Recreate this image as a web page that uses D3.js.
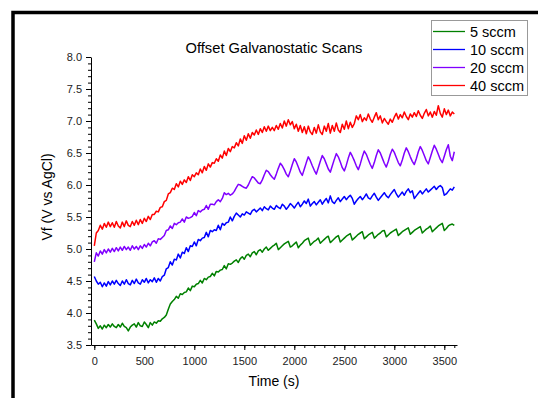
<!DOCTYPE html>
<html>
<head>
<meta charset="utf-8">
<script src="https://cdn.jsdelivr.net/npm/d3@7"></script>
<style>
  html, body { margin: 0; padding: 0; background: #fff; }
  svg { display: block; font-family: "Liberation Sans", Arial, sans-serif; }
  .axis text { font-size: 11px; fill: #222; }
  .axis path, .axis line { stroke: #000; }
</style>
</head>
<body>
<div id="chart"></div>
<script>
// sampling interval of the scans (s)
const timeStep = 20;

const seriesNames = ['5 sccm', '10 sccm', '20 sccm', '40 sccm'];
const seriesColors = ['#008000', '#0000ff', '#8000ff', '#ff0000'];

// values, one every 20 s from 0 to 3600 s
const vf5 = [
  3.89, 3.83, 3.76, 3.80, 3.75, 3.81, 3.77, 3.82, 3.78, 3.83,
  3.79, 3.77, 3.82, 3.78, 3.84, 3.79, 3.77, 3.72, 3.78, 3.81,
  3.83, 3.78, 3.85, 3.80, 3.79, 3.86, 3.82, 3.77, 3.85, 3.81,
  3.86, 3.84, 3.88, 3.87, 3.91, 3.93, 3.97, 4.06, 4.14, 4.18,
  4.21, 4.26, 4.23, 4.30, 4.29, 4.32, 4.33, 4.39, 4.35, 4.42,
  4.41, 4.45, 4.46, 4.51, 4.47, 4.54, 4.52, 4.56, 4.57, 4.62,
  4.58, 4.65, 4.64, 4.67, 4.68, 4.74, 4.69, 4.77, 4.76, 4.78,
  4.81, 4.83, 4.79, 4.85, 4.88, 4.84, 4.90, 4.92, 4.88, 4.94,
  4.96, 4.91, 4.97, 4.99, 4.95, 5.00, 5.03, 4.98, 5.01, 5.04,
  5.06, 5.09, 4.99, 5.02, 5.05, 5.08, 5.10, 5.12, 5.03, 5.05,
  5.08, 5.11, 5.02, 5.06, 5.09, 5.13, 5.15, 5.17, 5.06, 5.09,
  5.12, 5.14, 5.17, 5.09, 5.12, 5.15, 5.18, 5.20, 5.10, 5.13,
  5.16, 5.19, 5.21, 5.11, 5.14, 5.17, 5.20, 5.22, 5.24, 5.14,
  5.17, 5.20, 5.23, 5.25, 5.27, 5.16, 5.19, 5.22, 5.24, 5.26,
  5.17, 5.20, 5.23, 5.25, 5.28, 5.29, 5.19, 5.22, 5.25, 5.27,
  5.29, 5.31, 5.21, 5.24, 5.27, 5.29, 5.31, 5.33, 5.23, 5.26,
  5.29, 5.31, 5.33, 5.35, 5.25, 5.28, 5.31, 5.33, 5.36, 5.27,
  5.30, 5.33, 5.36, 5.38, 5.40, 5.29, 5.32, 5.36, 5.38, 5.39,
  5.37
];

const vf10 = [
  4.57, 4.50, 4.45, 4.48, 4.41, 4.47, 4.42, 4.49, 4.44, 4.50,
  4.45, 4.51, 4.46, 4.43, 4.50, 4.45, 4.52, 4.46, 4.44, 4.51,
  4.46, 4.53, 4.47, 4.45, 4.52, 4.48, 4.54, 4.47, 4.52, 4.49,
  4.55, 4.48, 4.54, 4.50, 4.57, 4.59, 4.69, 4.71, 4.80, 4.75,
  4.84, 4.83, 4.92, 4.86, 4.95, 4.93, 5.02, 4.96, 5.05, 5.04,
  5.11, 5.05, 5.15, 5.13, 5.17, 5.18, 5.26, 5.19, 5.29, 5.27,
  5.30, 5.29, 5.37, 5.30, 5.40, 5.37, 5.41, 5.42, 5.50, 5.44,
  5.51, 5.56, 5.53, 5.50, 5.55, 5.53, 5.58, 5.56, 5.54, 5.60,
  5.62, 5.58, 5.61, 5.64, 5.60, 5.66, 5.63, 5.61, 5.67, 5.64,
  5.62, 5.68, 5.65, 5.63, 5.70, 5.67, 5.62, 5.66, 5.71, 5.68,
  5.64, 5.69, 5.73, 5.66, 5.70, 5.75, 5.71, 5.78, 5.67, 5.71,
  5.74, 5.69, 5.73, 5.77, 5.70, 5.75, 5.79, 5.72, 5.83, 5.74,
  5.71, 5.76, 5.80, 5.74, 5.78, 5.82, 5.77, 5.81, 5.84, 5.79,
  5.70, 5.75, 5.79, 5.82, 5.77, 5.81, 5.86, 5.80, 5.78, 5.83,
  5.87, 5.81, 5.76, 5.80, 5.84, 5.88, 5.83, 5.80, 5.85, 5.89,
  5.93, 5.86, 5.81, 5.85, 5.89, 5.84, 5.90, 5.94, 5.88, 5.91,
  5.79, 5.83, 5.87, 5.91, 5.86, 5.90, 5.94, 5.89, 5.92, 5.95,
  5.98, 5.93, 5.97, 5.99, 5.96, 5.84, 5.86, 5.90, 5.94, 5.92,
  5.97
];

const vf20 = [
  4.80, 4.94, 4.89, 4.97, 4.92, 4.99, 4.94, 5.00, 4.95, 5.01,
  4.96, 5.02, 4.97, 5.03, 4.98, 5.04, 4.99, 5.03, 4.98, 5.05,
  5.00, 5.04, 4.99, 5.05, 5.01, 5.07, 5.03, 5.09, 5.05, 5.11,
  5.13, 5.09, 5.16, 5.15, 5.18, 5.21, 5.29, 5.30, 5.36, 5.32,
  5.40, 5.38, 5.41, 5.42, 5.47, 5.42, 5.50, 5.48, 5.49, 5.51,
  5.57, 5.52, 5.60, 5.58, 5.61, 5.62, 5.68, 5.62, 5.70, 5.70,
  5.69, 5.74, 5.77, 5.74, 5.79, 5.88, 5.85, 5.87, 5.84, 5.86,
  5.90, 5.96, 6.01, 6.00, 5.98, 5.96, 5.95, 6.00, 6.07, 6.13,
  6.11, 6.07, 6.03, 6.02, 6.08, 6.16, 6.23, 6.21, 6.16, 6.12,
  6.09, 6.17, 6.26, 6.34, 6.30, 6.24, 6.17, 6.13, 6.22, 6.32,
  6.41, 6.36, 6.28, 6.20, 6.15, 6.25, 6.35, 6.44, 6.38, 6.30,
  6.23, 6.17, 6.27, 6.37, 6.46, 6.41, 6.33, 6.25, 6.20, 6.30,
  6.40, 6.49, 6.44, 6.36, 6.27, 6.22, 6.31, 6.42, 6.51, 6.45,
  6.38, 6.30, 6.24, 6.33, 6.44, 6.53, 6.48, 6.40, 6.32, 6.26,
  6.35, 6.46, 6.55, 6.50, 6.42, 6.34, 6.28, 6.37, 6.48, 6.56,
  6.51, 6.43, 6.35, 6.30, 6.39, 6.50, 6.58, 6.52, 6.44, 6.37,
  6.32, 6.41, 6.52, 6.60, 6.54, 6.46, 6.38, 6.33, 6.43, 6.53,
  6.62, 6.56, 6.48, 6.40, 6.35, 6.45, 6.55, 6.63, 6.45, 6.38,
  6.52
];

const vf40 = [
  5.05, 5.25, 5.29, 5.37, 5.31, 5.40, 5.34, 5.42, 5.35, 5.41,
  5.34, 5.43, 5.36, 5.33, 5.42, 5.35, 5.44, 5.37, 5.35, 5.43,
  5.37, 5.45, 5.38, 5.46, 5.40, 5.48, 5.43, 5.51, 5.46, 5.54,
  5.54, 5.59, 5.58, 5.65, 5.66, 5.74, 5.76, 5.86, 5.88, 5.95,
  5.93, 6.02, 5.97, 6.06, 6.01, 6.08, 6.04, 6.13, 6.07, 6.16,
  6.13, 6.19, 6.16, 6.25, 6.19, 6.29, 6.23, 6.33, 6.28, 6.35,
  6.34, 6.41, 6.37, 6.47, 6.42, 6.53, 6.46, 6.57, 6.52, 6.60,
  6.58, 6.66, 6.61, 6.72, 6.65, 6.77, 6.70, 6.80, 6.73, 6.82,
  6.78, 6.86, 6.79, 6.88, 6.82, 6.91, 6.84, 6.92, 6.85, 6.90,
  6.85, 6.93, 6.87, 6.96, 6.89, 7.00, 6.92, 7.02, 6.94, 6.99,
  6.88, 6.95, 6.84, 6.93, 6.82, 6.91, 6.80, 6.92, 6.83, 6.79,
  6.90, 6.81, 6.94, 6.83, 6.79, 6.92, 6.84, 6.96, 6.81, 6.93,
  6.84, 6.97, 6.86, 6.82, 6.95, 6.87, 7.00, 6.88, 6.98, 6.90,
  6.96, 7.08, 7.02, 7.10, 6.99, 7.05, 7.01, 7.11, 7.03, 6.98,
  7.06, 7.13, 7.02, 7.08, 6.97, 7.04, 6.99, 6.95, 7.03, 6.98,
  7.06, 7.12, 7.03, 7.10, 7.05, 7.14, 7.07, 7.02, 7.11, 7.06,
  7.13, 7.07, 7.16, 7.09, 7.04, 7.12, 7.18, 7.08, 7.14, 7.06,
  7.15, 7.09, 7.24, 7.12, 7.06, 7.19, 7.10, 7.17, 7.08, 7.14,
  7.11
];

const seriesValues = [vf5, vf10, vf20, vf40];

const xTicks = [0, 500, 1000, 1500, 2000, 2500, 3000, 3500];
const yTicks = [3.5, 4.0, 4.5, 5.0, 5.5, 6.0, 6.5, 7.0, 7.5, 8.0];

const width = 538;
const height = 398;

const svg = d3.select('#chart').append('svg')
  .attr('width', width)
  .attr('height', height);

svg.append('rect').attr('width', width).attr('height', height).attr('fill', '#fff');

// black frame of the figure (only top and left edges show)
svg.append('rect')
  .attr('x', 13).attr('y', 12.5)
  .attr('width', 700).attr('height', 600)
  .attr('fill', 'none')
  .attr('stroke', '#000')
  .attr('stroke-width', 3.5);

/* ---------- scales ---------- */
const x = d3.scaleLinear().domain([-33, 3627]).range([91, 457]);
const y = d3.scaleLinear().domain([3.5, 8.0]).range([345, 57]);

/* ---------- axes ---------- */
// minor ticks first
svg.append('g')
  .attr('class', 'axis')
  .attr('transform', 'translate(0,345)')
  .call(d3.axisBottom(x).tickValues(d3.range(0, 3601, 100)).tickSize(3).tickSizeOuter(0).tickFormat(''))
  .call((g) => g.select('.domain').remove());

svg.append('g')
  .attr('class', 'axis')
  .attr('transform', 'translate(91,0)')
  .call(d3.axisLeft(y).tickValues(d3.range(35, 81, 1).map((d) => d / 10)).tickSize(3).tickSizeOuter(0).tickFormat(''))
  .call((g) => g.select('.domain').remove());

svg.append('g')
  .attr('class', 'axis')
  .attr('transform', 'translate(0,345)')
  .call(d3.axisBottom(x).tickValues(xTicks).tickSize(5).tickSizeOuter(0).tickPadding(7).tickFormat(d3.format('d')));

svg.append('g')
  .attr('class', 'axis')
  .attr('transform', 'translate(91,0)')
  .call(d3.axisLeft(y).tickValues(yTicks).tickSize(5).tickSizeOuter(0).tickPadding(4).tickFormat(d3.format('.1f')));

// axis titles
svg.append('text')
  .attr('x', 274)
  .attr('y', 386)
  .attr('text-anchor', 'middle')
  .style('font-size', '14px')
  .text('Time (s)');

svg.append('text')
  .attr('transform', 'translate(52,197) rotate(-90)')
  .attr('text-anchor', 'middle')
  .style('font-size', '14px')
  .text('Vf (V vs AgCl)');

// chart title
svg.append('text')
  .attr('x', 274)
  .attr('y', 53)
  .attr('text-anchor', 'middle')
  .style('font-size', '14.7px')
  .text('Offset Galvanostatic Scans');

/* ---------- lines ---------- */
const line = d3.line()
  .x((d, i) => x(i * timeStep))
  .y((d) => y(d));

svg.append('g')
  .selectAll('path')
  .data(seriesValues)
  .enter()
  .append('path')
  .attr('d', line)
  .attr('fill', 'none')
  .attr('stroke', (d, i) => seriesColors[i])
  .attr('stroke-width', 1.5)
  .attr('stroke-linejoin', 'round');

/* ---------- legend ---------- */
const legend = svg.append('g').attr('transform', 'translate(431,20)');

legend.append('rect')
  .attr('x', 0.5).attr('y', 0.5)
  .attr('width', 96).attr('height', 75)
  .attr('fill', '#fff')
  .attr('stroke', '#999');

const item = legend.selectAll('g.item')
  .data(seriesNames)
  .enter()
  .append('g')
  .attr('class', 'item')
  .attr('transform', (d, i) => `translate(0,${11.5 + i * 18})`);

item.append('line')
  .attr('x1', 2).attr('x2', 34)
  .attr('stroke', (d, i) => seriesColors[i])
  .attr('stroke-width', 1.3);

item.append('text')
  .attr('x', 39)
  .attr('y', 5)
  .style('font-size', '14.5px')
  .text((d) => d);
</script>
</body>
</html>
